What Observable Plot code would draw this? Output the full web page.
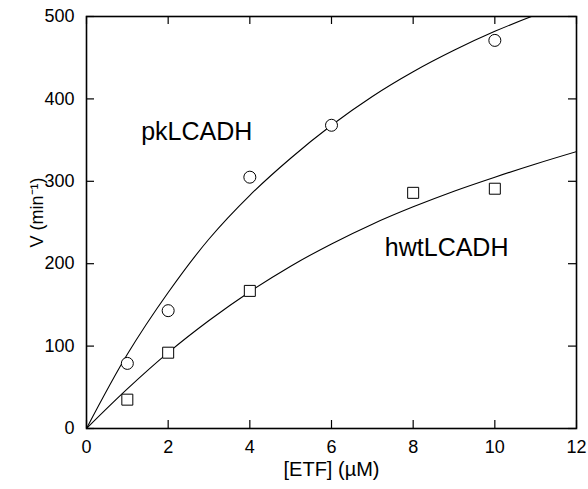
<!DOCTYPE html>
<html>
<head>
<meta charset="utf-8">
<script src="https://cdn.jsdelivr.net/npm/d3@7"></script>
<script src="https://cdn.jsdelivr.net/npm/@observablehq/plot@0.6"></script>
<style>
  html, body { margin: 0; padding: 0; background: #fff; }
  #chart svg { display: block; }
</style>
</head>
<body>
<div id="chart"></div>
<script>
// Measured points
const pkX = [1, 2, 4, 6, 10];
const pkV = [79, 143, 305, 368, 471];
const hwtX = [1, 2, 4, 8, 10];
const hwtV = [35, 92, 167, 286, 291];

// Fitted curves
const curveX = [0, 1, 2, 3, 4, 5, 6, 7, 8, 9, 10, 11, 12];
const pkCurveV = [0, 90, 165, 230, 283, 328, 368, 403, 433, 459, 482, 502, 520];
const hwtCurveV = [0, 48, 92, 131, 166, 197, 224, 248, 269, 288, 305, 321, 336];

// Ticks and labels
const xTicks = [0, 2, 4, 6, 8, 10, 12];
const yTicks = [0, 100, 200, 300, 400, 500];
const seriesLabels = [
  {name: "pkLCADH", x: 2.7, v: 360},
  {name: "hwtLCADH", x: 8.82, v: 219}
];
const xLabel = "[ETF] (\u00B5M)";
const yLabel = "V (min\u207B\u00B9)";

const pts = (xs, vs) => xs.map((x, i) => ({x, v: vs[i]}));
const pkPts = pts(pkX, pkV);
const hwtPts = pts(hwtX, hwtV);
const pkCurve = pts(curveX, pkCurveV);
const hwtCurve = pts(curveX, hwtCurveV);

const font = "'Liberation Sans', Arial, Helvetica, sans-serif";
const W = 588, H = 489, ML = 86, MR = 12, MT = 16, MB = 61;
const innerW = W - ML - MR, innerH = H - MT - MB;
const tickLen = 8;

const chart = Plot.plot({
  width: W,
  height: H,
  marginLeft: ML,
  marginRight: MR,
  marginTop: MT,
  marginBottom: MB,
  style: {fontFamily: font, background: "#fff", color: "#000"},
  x: {domain: [0, 12], ticks: xTicks},
  y: {domain: [0, 500], ticks: yTicks},
  marks: [
    Plot.line(pkCurve, {x: "x", y: "v", curve: "catmull-rom", stroke: "#000", strokeWidth: 1.1, clip: true}),
    Plot.line(hwtCurve, {x: "x", y: "v", curve: "catmull-rom", stroke: "#000", strokeWidth: 1.1, clip: true}),
    Plot.dot(pkPts, {x: "x", y: "v", r: 6, symbol: "circle", stroke: "#000", fill: "#fff", strokeWidth: 1}),
    Plot.dot(hwtPts, {x: "x", y: "v", r: 6.2, symbol: "square", stroke: "#000", fill: "#fff", strokeWidth: 1}),
    // inward tick marks on all four sides
    Plot.tickX(xTicks, {x: d => d, insetTop: innerH - tickLen, stroke: "#000", strokeWidth: 1.2}),
    Plot.tickX(xTicks, {x: d => d, insetBottom: innerH - tickLen, stroke: "#000", strokeWidth: 1.2}),
    Plot.tickY(yTicks, {y: d => d, insetRight: innerW - tickLen, stroke: "#000", strokeWidth: 1.2}),
    Plot.tickY(yTicks, {y: d => d, insetLeft: innerW - tickLen, stroke: "#000", strokeWidth: 1.2}),
    // tick labels
    Plot.axisX(xTicks, {anchor: "bottom", tickSize: 0, tickPadding: 12, fontSize: 18, label: null}),
    Plot.axisY(yTicks, {anchor: "left", tickSize: 0, tickPadding: 12, fontSize: 18, label: null}),
    Plot.frame({stroke: "#000", strokeWidth: 1.6}),
    Plot.text(seriesLabels, {x: "x", y: "v", text: "name", fontSize: 25, fill: "#000"}),
    Plot.text([xLabel], {frameAnchor: "bottom", dy: 47, fontSize: 20, fill: "#000"}),
    Plot.text([yLabel], {frameAnchor: "left", textAnchor: "middle", dx: -49, dy: -10, rotate: -90, fontSize: 18, fill: "#000"})
  ]
});
document.getElementById("chart").appendChild(chart);
</script>
</body>
</html>
